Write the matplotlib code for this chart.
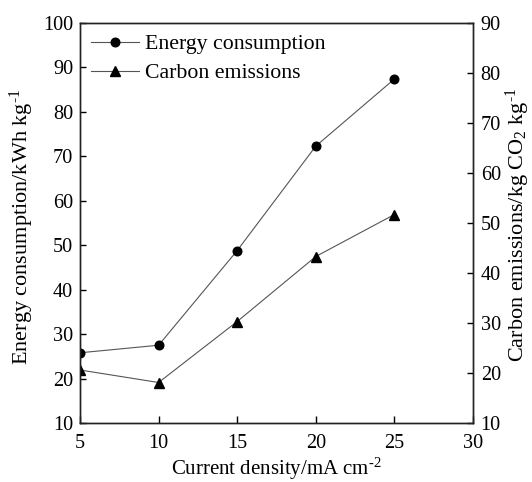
import matplotlib
matplotlib.use("Agg")
import matplotlib.pyplot as plt
from matplotlib.lines import Line2D

plt.rcParams['font.family'] = ['Liberation Serif', 'DejaVu Serif']
plt.rcParams['mathtext.fontset'] = 'custom'
plt.rcParams['mathtext.rm'] = 'Liberation Serif'
plt.rcParams['mathtext.it'] = 'Liberation Serif:italic'
plt.rcParams['mathtext.bf'] = 'Liberation Serif:bold'

current_density = [5, 10, 15, 20, 25]
energy = [25.8, 27.5, 48.8, 72.3, 87.4]
carbon = [20.6, 18.1, 30.3, 43.3, 51.7]

fig = plt.figure(figsize=(5.32, 4.82), dpi=100)
ax = fig.add_axes([80/532, 1 - 423/482, (473-80)/532, (423-23)/482])
ax2 = ax.twinx()

line_kw = dict(color='#555555', lw=0.8, markerfacecolor='black', markeredgecolor='black')
l1, = ax.plot(current_density, energy, marker='o', markersize=6.2, **line_kw)
l2, = ax2.plot(current_density, carbon, marker='^', markersize=7.2, **line_kw)

ax.set_xlim(5, 30)
ax.set_ylim(10, 100)
ax2.set_ylim(10, 90)
ax.set_xticks([5, 10, 15, 20, 25, 30])
ax.set_yticks(range(10, 101, 10))
ax2.set_yticks(range(10, 91, 10))

fs = 14.6
ax.tick_params(axis='x', direction='in', labelsize=fs, length=5, width=1, pad=8)
ax.tick_params(axis='y', direction='in', labelsize=fs, length=4.3, width=1, pad=5)
ax2.tick_params(axis='y', direction='in', labelsize=fs, length=4.3, width=1, pad=5.5)
for a in (ax, ax2):
    for s in a.spines.values():
        s.set_linewidth(1.0)
        s.set_color('#222222')

sup = r'$^{\text{-}1}$'
ax.set_xlabel(r'Current density/mA cm$^{\text{-}2}$', fontsize=15)
ax.set_ylabel('Energy consumption/kWh kg' + sup, fontsize=16)
ax2.set_ylabel('Carbon emissions/kg CO$_2$ kg' + sup, fontsize=16)
ax.xaxis.set_label_coords(0.5, -0.082)
ax.yaxis.set_label_coords(-0.112, 0.49)
ax2.yaxis.set_label_coords(1.079, 0.495)

h1 = Line2D([], [], marker='o', markersize=6.2, **line_kw)
h2 = Line2D([], [], marker='^', markersize=7.2, **line_kw)
ax.legend([h1, h2], ['Energy consumption', 'Carbon emissions'], loc='upper left',
          frameon=False, fontsize=15.7, handlelength=2.2, borderaxespad=0.1,
          handletextpad=0.3, labelspacing=0.4)

fig.savefig('out.png', dpi=100)
